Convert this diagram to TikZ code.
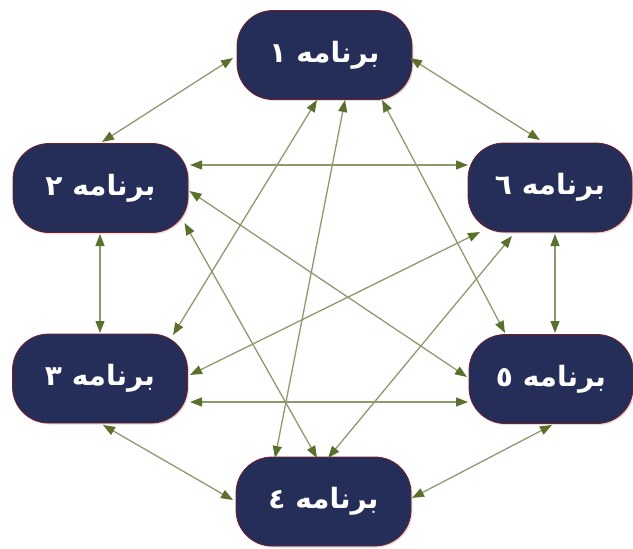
\documentclass[tikz,border=0pt]{standalone}
\usepackage{fontspec}
\usetikzlibrary{arrows.meta,shadows}
\TeXXeTstate=1
\newfontfamily\arabicfont[Script=Arabic]{DejaVu Sans}

\definecolor{boxnavy}{RGB}{36,46,88}
\definecolor{boxedge}{RGB}{120,30,40}
\definecolor{linkline}{RGB}{140,154,110}
\definecolor{linktip}{RGB}{92,112,45}

\tikzset{
  prog/.style={rectangle, rounded corners=36pt, minimum width=175pt,
    minimum height=89pt, fill=boxnavy, draw=boxedge, line width=0.8pt,
    text=white, font=\arabicfont\bfseries\fontsize{28}{32}\selectfont,
    drop shadow={shadow xshift=1.5pt, shadow yshift=-1.5pt, fill=black!25}},
  progr/.style={prog, minimum width=164pt},
  link/.style={draw=linkline, line width=1.3pt,
    {Triangle[length=12pt,width=9pt,color=linktip]}-{Triangle[length=12pt,width=9pt,color=linktip]}}
}

\begin{document}
\begin{tikzpicture}[x=1pt,y=-1pt]
\useasboundingbox (0,0) rectangle (633,549);

% the six programs
\node[prog]  (n1) at (324.5,55)  {\beginR برنامه ١\endR};
\node[prog]  (n2) at (100.5,188) {\beginR برنامه ٢\endR};
\node[prog]  (n3) at (100,378.5) {\beginR برنامه ٣\endR};
\node[prog]  (n4) at (323.5,501.5) {\beginR برنامه ٤\endR};
\node[progr] (n5) at (551,379)   {\beginR برنامه ٥\endR};
\node[progr] (n6) at (550,187.5) {\beginR برنامه ٦\endR};

% outer ring
\draw[link] ([shift={(-91.5,3)}]n1.center) -- ([shift={(1.5,-46)}]n2.center);
\draw[link] ([shift={(85.5,3)}]n1.center)  -- ([shift={(-10,-47.5)}]n6.center);
\draw[link] ([shift={(-0.5,46)}]n2.center) -- ([shift={(0,-45.5)}]n3.center);
\draw[link] ([shift={(5,46.5)}]n6.center)  -- ([shift={(4,-46)}]n5.center);
\draw[link] ([shift={(3,46.5)}]n3.center)  -- ([shift={(-90.5,-1.5)}]n4.center);
\draw[link] ([shift={(1,46)}]n5.center)    -- ([shift={(88.5,-3.5)}]n4.center);

% horizontal links
\draw[link] ([shift={(89.5,-23)}]n2.center) -- ([shift={(-82,-22.5)}]n6.center);
\draw[link] ([shift={(90,23.5)}]n3.center)  -- ([shift={(-83,23)}]n5.center);

% links from program 1
\draw[link] ([shift={(-7.5,45)}]n1.center) -- ([shift={(73,-43.5)}]n3.center);
\draw[link] ([shift={(20.5,45)}]n1.center) -- ([shift={(-48.5,-43.5)}]n4.center);
\draw[link] ([shift={(57.5,45)}]n1.center) -- ([shift={(-46,-46)}]n5.center);

% links from program 2
\draw[link] ([shift={(89,3)}]n2.center)   -- ([shift={(-84,-2)}]n5.center);
\draw[link] ([shift={(84,35)}]n2.center)  -- ([shift={(-6.5,-43.5)}]n4.center);

% links from program 6
\draw[link] ([shift={(-70,44.5)}]n6.center) -- ([shift={(90,-3.5)}]n3.center);
\draw[link] ([shift={(-38,48.5)}]n6.center) -- ([shift={(4.5,-43.5)}]n4.center);
\end{tikzpicture}
\end{document}
